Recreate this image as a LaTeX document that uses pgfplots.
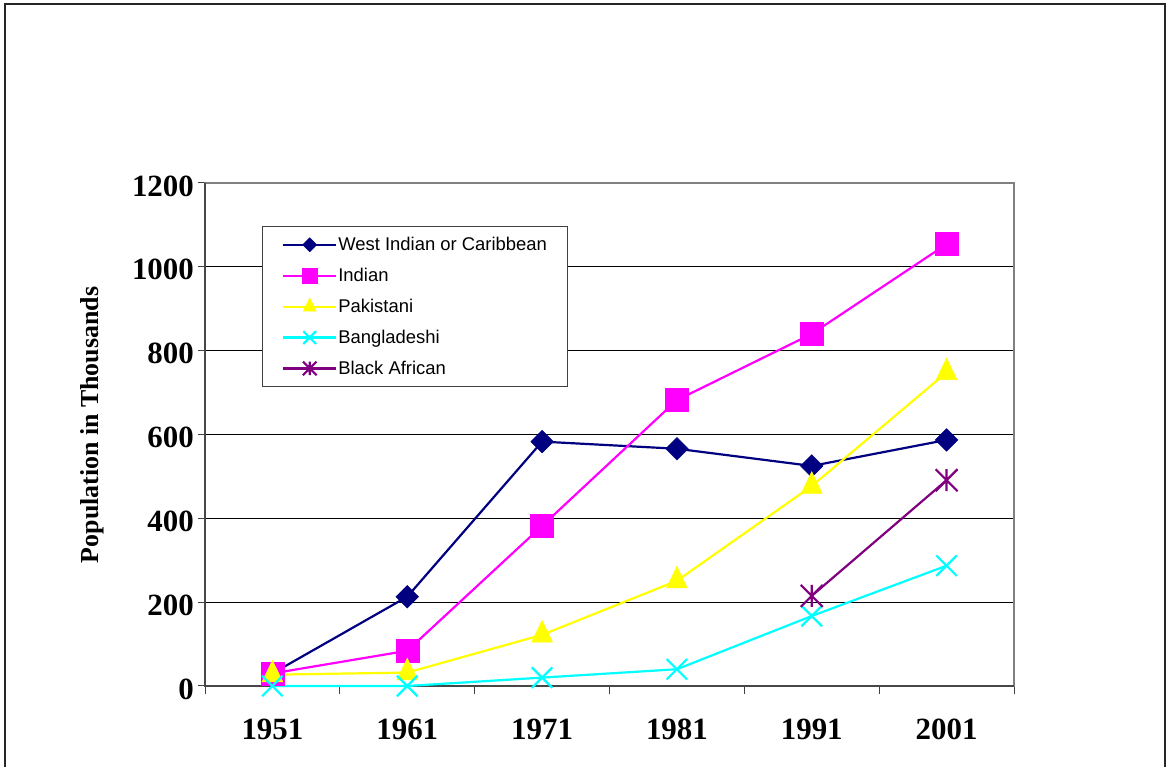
\documentclass[border=0pt]{standalone}
\usepackage{fontspec}
\setmainfont{Liberation Serif}
\newfontfamily\arial{Liberation Sans}
\usepackage{pgfplots}
\pgfplotsset{compat=1.18}
\definecolor{cwi}{RGB}{0,0,128}
\definecolor{cin}{RGB}{255,0,255}
\definecolor{cpk}{RGB}{255,255,0}
\definecolor{cbd}{RGB}{0,255,255}
\definecolor{cba}{RGB}{128,0,128}
\pgfdeclareplotmark{xstar}{%
 \pgfpathmoveto{\pgfqpoint{0pt}{\pgfplotmarksize}}\pgfpathlineto{\pgfqpoint{0pt}{-\pgfplotmarksize}}%
 \pgfpathmoveto{\pgfqpoint{-\pgfplotmarksize}{-\pgfplotmarksize}}\pgfpathlineto{\pgfqpoint{\pgfplotmarksize}{\pgfplotmarksize}}%
 \pgfpathmoveto{\pgfqpoint{-\pgfplotmarksize}{\pgfplotmarksize}}\pgfpathlineto{\pgfqpoint{\pgfplotmarksize}{-\pgfplotmarksize}}%
 \pgfusepathqstroke}
\begin{document}
\begin{tikzpicture}
\path[use as bounding box] (0,0) rectangle (1167bp,767bp);
\draw[line width=1.5bp, black!85] (5bp,-2bp) -- (5bp,763bp) -- (1165bp,763bp) -- (1165bp,-2bp);
\begin{axis}[
 at={(205bp,81bp)}, anchor=south west,
 scale only axis, width=809bp, height=503bp,
 xmin=-0.5, xmax=5.5, ymin=0, ymax=1200,
 xtick={0,...,5}, xticklabels={1951,1961,1971,1981,1991,2001},
 minor xtick={-0.5,0.5,...,5.5},
 ytick={0,200,...,1200},
 tick align=outside, tick pos=left,
 major x tick style={draw=none},
 minor tick length=8bp, major tick length=7bp,
 every tick/.style={black!75, line width=1bp},
 ymajorgrids, grid style={black, line width=1bp},
 axis line style={black!50, line width=2bp},
 /pgf/number format/assume math mode=true,
 /pgf/number format/1000 sep={},
 ticklabel style={font=\bfseries\fontsize{31}{36}\selectfont, inner sep=0pt},
 yticklabel style={anchor=east, xshift=-4bp, yshift=-3bp},
 xticklabel style={anchor=north, yshift=-26bp},
 ylabel={Population in Thousands},
 ylabel style={font=\bfseries\fontsize{26}{30}\selectfont, at={(rel axis cs:-0.1397,0.519)}, anchor=center},
 clip=false,
 legend cell align=left,
 legend style={at={(rel axis cs:0.0705,0.9145)}, anchor=north west,
   draw=black!75, line width=1.2bp, fill=white,
   font=\arial\fontsize{18.5}{22}\selectfont,
   inner xsep=19.5bp, inner ysep=9.5bp, row sep=13.5bp,
   nodes={inner sep=1bp, text depth=0.2em},
   /tikz/every even column/.append style={column sep=5bp}},
 legend image code/.code={\draw[mark repeat=2, mark phase=2, /tikz/every mark/.append style={scale=0.62}] plot coordinates {(0bp,0bp)(26.5bp,0bp)(53bp,0bp)};},
 every axis plot/.append style={line width=2.2bp},
]
\draw[black!72, line width=2bp] (rel axis cs:0,1) -- (rel axis cs:0,0) -- (rel axis cs:1,0);
\addplot[cwi, mark=square*, mark size=8bp, mark options={rotate=45, fill=cwi, line width=0.5bp}]
 coordinates {(0,30) (1,213) (2,583) (3,566) (4,525) (5,587)};
\addlegendentry{West Indian or Caribbean}
\addplot[cin, mark=square*, mark size=11.5bp, mark options={fill=cin, line width=0.5bp}]
 coordinates {(0,30) (1,84) (2,382) (3,682) (4,840) (5,1054)};
\addlegendentry{Indian}
\addplot[cpk, mark=triangle*, mark size=12bp, mark options={fill=cpk, yscale=1.2, line width=0.5bp}]
 coordinates {(0,27) (1,32) (2,122) (3,251) (4,477) (5,748)};
\addlegendentry{Pakistani}
\addplot[cbd, mark=x, mark size=14.5bp, mark options={line width=2.2bp}]
 coordinates {(0,0) (1,0) (2,20) (3,40) (4,167) (5,287)};
\addlegendentry{Bangladeshi}
\addplot[cba, mark=xstar, mark size=11bp, mark options={line width=2.2bp}]
 coordinates {(4,215) (5,491)};
\addlegendentry{Black African}
\end{axis}
\end{tikzpicture}
\end{document}
